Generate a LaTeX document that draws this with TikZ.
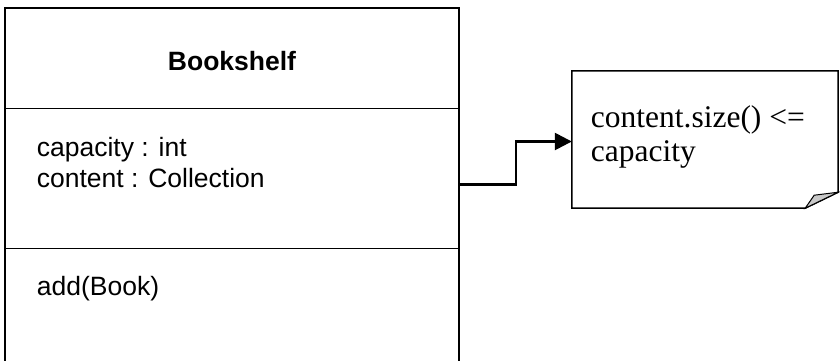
\documentclass[tikz,border=0pt]{standalone}
\usepackage{fontspec}
\setmainfont{Liberation Serif}
\newfontfamily\arialf{Liberation Sans}
\usetikzlibrary{arrows.meta}
\definecolor{foldgray}{RGB}{200,200,200}
\begin{document}
\begin{tikzpicture}[x=1pt,y=-1pt,
  compart/.style={draw=black,line width=1.2pt,minimum width=454pt,inner sep=0pt,fill=white},
  clstext/.style={anchor=base west,inner sep=0pt,font=\arialf\fontsize{26.5}{31}\selectfont},
  notetext/.style={anchor=base west,inner sep=0pt,font=\fontsize{31.5}{34}\selectfont},
  conn/.style={line width=2.5pt,-{Triangle[length=17pt,width=17pt]}}]
\useasboundingbox (0,0) rectangle (840,360);
\clip (0,0) rectangle (840,360);
\fill[white] (0,0) rectangle (840,360);
% class compartments
\node[compart,minimum height=100.7pt] (title) at (232,58.35) {};
\node[compart,minimum height=140pt] (attr) at (232,178.7) {};
\node[compart,minimum height=113.3pt] (meth) at (232,305.35) {};
\node[anchor=base,inner sep=0pt,font=\arialf\bfseries\fontsize{26.5}{31}\selectfont] (tname) at (232,70.7) {Bookshelf};
\node[clstext] (a1) at (36.7,156.7) {capacity : int};
\node[clstext] (a2) at (36.7,187.7) {content : Collection};
\node[clstext] (m1) at (36.7,295) {add(Book)};
% note
\node[minimum width=266pt,minimum height=137pt,inner sep=0pt] (note) at (705,139.5) {};
\draw[line width=1.5pt,fill=white] (note.north west) -- (note.north east) -- ([yshift=16pt]note.south east) -- ([xshift=-33pt]note.south east) -- (note.south west) -- cycle;
\draw[line width=1pt,fill=foldgray] ([xshift=-33pt]note.south east) -- ([xshift=-24pt,yshift=13pt]note.south east) -- ([yshift=16pt]note.south east) -- cycle;
\node[notetext] (n1) at (590.7,127.3) {content.size() <=};
\node[notetext] (n2) at (590.7,161.5) {capacity};
% connector
\coordinate (tip) at ([yshift=-2pt]note.west);
\coordinate (start) at ([yshift=-6pt]attr.east);
\coordinate (bend) at (516,0);
\draw[conn] (start) -| (bend |- tip) -- (tip);
\end{tikzpicture}
\end{document}
